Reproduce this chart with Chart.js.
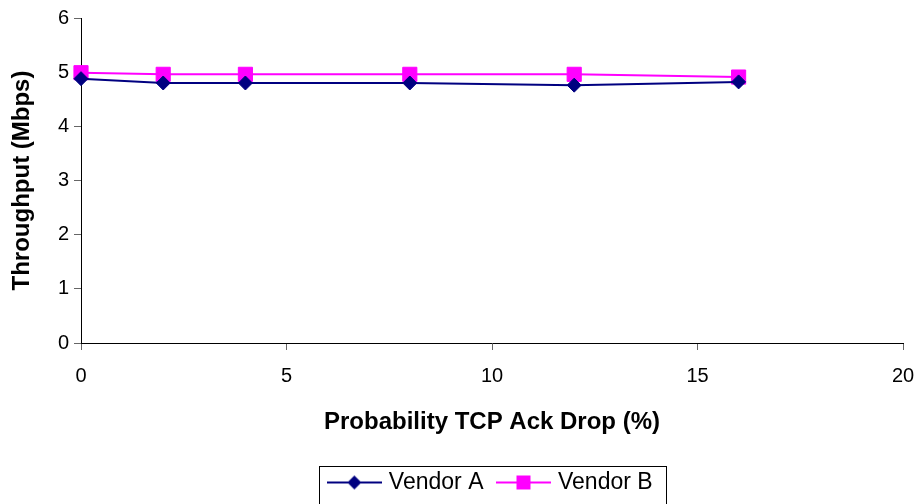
<!DOCTYPE html>
<html>
<head>
<meta charset="utf-8">
<script src="https://cdn.jsdelivr.net/npm/chart.js@4"></script>
<style>
  body { margin: 0; background: #fff; }
  #wrap { width: 921px; height: 504px; position: relative; }
</style>
</head>
<body>
<div id="wrap"><canvas id="chart"></canvas></div>
<script>
// probability of ack drop (%)
const dropProb = [0, 2, 4, 8, 12, 16];
// throughput in Mbps
const vendorA = [4.88, 4.80, 4.80, 4.80, 4.76, 4.82];
const vendorB = [4.99, 4.96, 4.96, 4.96, 4.96, 4.91];
const seriesNames = ['Vendor A', 'Vendor B'];
const xTicks = [0, 5, 10, 15, 20];
const yTicks = [0, 1, 2, 3, 4, 5, 6];

const navy = '#000080';
const magenta = '#FF00FF';

Chart.defaults.font.family = "'Liberation Sans', Arial, sans-serif";
Chart.defaults.color = '#000';

function toPoints(vals) {
  let pts = [];
  for (let i = 0; i < dropProb.length; i++) {
    pts.push({ x: dropProb[i], y: vals[i] });
  }
  return pts;
}

// little line + marker pictures for the legend
function legendGlyph(color, shape) {
  const c = document.createElement('canvas');
  c.width = 55;
  c.height = 20;
  const g = c.getContext('2d');
  g.strokeStyle = color;
  g.lineWidth = 2;
  g.beginPath();
  g.moveTo(0, 10);
  g.lineTo(55, 10);
  g.stroke();
  g.fillStyle = color;
  g.beginPath();
  if (shape == 'diamond') {
    g.moveTo(27.5, 3);
    g.lineTo(34.5, 10);
    g.lineTo(27.5, 17);
    g.lineTo(20.5, 10);
    g.closePath();
  } else {
    g.rect(20.5, 3, 14, 14);
  }
  g.fill();
  return c;
}
const glyphs = [legendGlyph(navy, 'diamond'), legendGlyph(magenta, 'square')];

const legendBorder = {
  id: 'legendBorder',
  afterDraw(chart) {
    const hb = chart.legend.legendHitBoxes;
    if (!hb || !hb.length) return;
    const last = hb[hb.length - 1];
    const left = Math.round(hb[0].left - 12.5) + 0.5;
    const right = Math.round(last.left + last.width + 13) + 0.5;
    const top = Math.round(hb[0].top - 5) + 0.5;
    const ctx = chart.ctx;
    ctx.save();
    ctx.strokeStyle = '#000';
    ctx.lineWidth = 1;
    ctx.strokeRect(left, top, right - left, 520 - top);
    ctx.restore();
  }
};

new Chart(document.getElementById('chart'), {
  type: 'line',
  data: {
    datasets: [{
      label: seriesNames[0],
      data: toPoints(vendorA),
      borderColor: navy,
      backgroundColor: navy,
      borderWidth: 2,
      pointStyle: 'rectRot',
      pointRadius: 7,
      pointBorderWidth: 1,
      tension: 0,
      clip: false
    }, {
      label: seriesNames[1],
      data: toPoints(vendorB),
      borderColor: magenta,
      backgroundColor: magenta,
      borderWidth: 2,
      pointStyle: 'rect',
      pointRadius: 10,
      pointBorderWidth: 1,
      tension: 0,
      clip: false
    }]
  },
  options: {
    responsive: true,
    maintainAspectRatio: false,
    animation: false,
    layout: { padding: { left: 0, right: 18, top: 18, bottom: 0 } },
    scales: {
      x: {
        type: 'linear',
        min: 0,
        max: 20,
        afterBuildTicks: (s) => { s.ticks = xTicks.map(v => ({ value: v })); },
        afterFit: (s) => {
          s.height = 111;
          s.paddingRight = 11;
        },
        border: { color: '#000', width: 1 },
        grid: { drawOnChartArea: false, tickLength: 7, tickColor: '#666' },
        ticks: { font: { size: 20 }, padding: 14 },
        title: {
          display: true,
          text: 'Probability TCP Ack Drop (%)',
          font: { size: 24, weight: 'bold' },
          padding: { top: 0, bottom: 17 }
        }
      },
      y: {
        min: 0,
        max: 6,
        afterBuildTicks: (s) => { s.ticks = yTicks.map(v => ({ value: v })); },
        afterFit: (s) => { s.width = 81; },
        border: { color: '#000', width: 1 },
        grid: { drawOnChartArea: false, tickLength: 7, tickColor: '#666' },
        ticks: { font: { size: 20 }, padding: 5 },
        title: {
          display: true,
          text: 'Throughput (Mbps)',
          font: { size: 24, weight: 'bold' },
          padding: { top: 8, bottom: 0 }
        }
      }
    },
    plugins: {
      tooltip: { enabled: false },
      legend: {
        position: 'bottom',
        fullSize: false,
        labels: {
          font: { size: 23 },
          color: '#000',
          usePointStyle: true,
          pointStyleWidth: 46,
          padding: 17,
          generateLabels: (chart) => {
            let items = Chart.defaults.plugins.legend.labels.generateLabels(chart);
            for (let i = 0; i < items.length; i++) {
              items[i].pointStyle = glyphs[i];
            }
            return items;
          }
        }
      }
    }
  },
  plugins: [legendBorder]
});
</script>
</body>
</html>
